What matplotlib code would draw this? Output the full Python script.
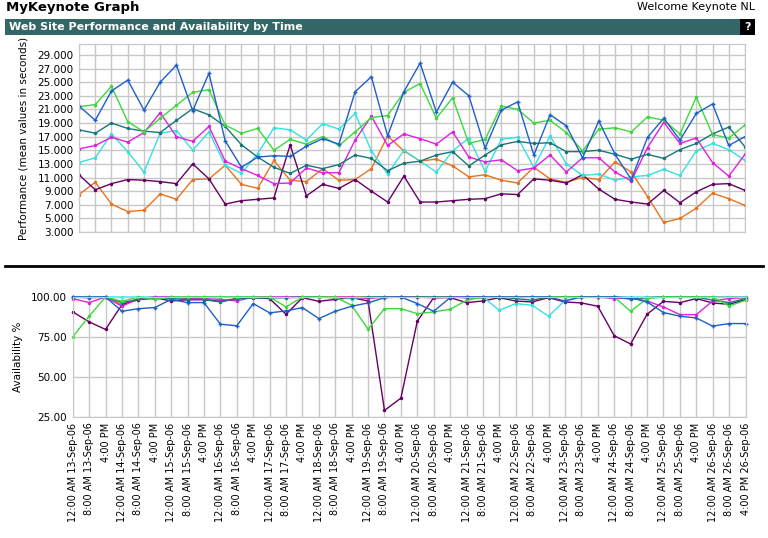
import matplotlib.pyplot as plt
import numpy as np
from matplotlib.patches import Rectangle
from matplotlib.lines import Line2D

# x tick labels, every 8 hours from 13-Sep-06 to 26-Sep-06
days = [f"{d}-Sep-06" for d in range(13, 27)]
x_labels = []
for d in days:
    x_labels += [f"12:00 AM {d}", f"8:00 AM {d}", "4:00 PM"]
x_labels[-1] = "4:00 PM 26-Sep-06"

# performance (mean values in seconds)
perf_blue = [21.5, 19.4, 23.7, 25.3, 20.9, 25.0, 27.5, 20.8, 26.3, 16.4, 12.5, 14.0,
             14.2, 14.1, 15.6, 16.7, 15.9, 23.6, 25.8, 17.1, 23.6, 27.8, 20.6, 25.0,
             23.0, 15.3, 20.9, 22.1, 14.3, 20.2, 18.6, 13.9, 19.3, 14.4, 10.7, 16.9,
             19.7, 16.5, 20.4, 21.8, 15.7, 17.0]
perf_green = [21.4, 21.7, 24.4, 19.2, 17.7, 19.7, 21.6, 23.5, 23.9, 18.7, 17.5, 18.2,
              15.0, 16.6, 15.9, 17.0, 15.7, 17.7, 19.8, 20.1, 23.5, 24.8, 19.7, 22.7,
              16.0, 16.6, 21.5, 21.0, 19.0, 19.4, 17.6, 14.9, 18.1, 18.3, 17.7, 19.9,
              19.4, 17.4, 22.8, 17.3, 16.8, 18.7]
perf_teal = [18.0, 17.5, 19.0, 18.2, 17.8, 17.6, 19.4, 21.1, 20.2, 18.5, 15.8, 14.0,
             12.5, 11.6, 12.8, 12.3, 12.9, 14.3, 13.8, 12.0, 13.1, 13.4, 14.3, 14.8,
             12.7, 14.3, 15.8, 16.3, 16.0, 16.1, 14.8, 14.8, 15.0, 14.4, 13.7, 14.4,
             13.8, 15.1, 16.0, 17.4, 18.4, 15.5]
perf_magenta = [15.2, 15.7, 16.9, 16.2, 17.6, 20.5, 17.0, 16.3, 18.5, 13.4, 12.3, 11.3,
                10.1, 10.2, 12.4, 11.7, 11.7, 16.5, 20.0, 15.7, 17.4, 16.7, 15.9, 17.7,
                14.0, 13.3, 13.6, 12.0, 12.4, 14.3, 11.8, 13.9, 13.9, 11.8, 10.5, 15.4,
                19.1, 16.0, 16.8, 13.2, 11.2, 14.4]
perf_cyan = [13.2, 13.9, 17.4, 14.8, 11.8, 17.5, 17.9, 15.0, 17.7, 12.8, 11.6, 14.5,
             18.3, 18.0, 16.5, 18.9, 18.1, 20.4, 14.9, 11.5, 15.0, 13.4, 11.8, 14.9,
             16.8, 11.9, 16.6, 16.9, 12.5, 17.1, 13.0, 11.3, 11.5, 10.6, 11.1, 11.3,
             12.2, 11.3, 14.9, 16.0, 15.1, 13.5]
perf_orange = [8.5, 10.3, 7.1, 6.0, 6.2, 8.6, 7.8, 10.7, 10.8, 12.8, 10.0, 9.4,
               13.5, 10.6, 10.4, 12.3, 10.6, 10.7, 12.3, 17.1, 14.9, 13.4, 13.7, 12.7,
               11.1, 11.4, 10.6, 10.2, 12.5, 10.8, 10.3, 11.0, 10.7, 13.3, 11.8, 8.2,
               4.4, 5.0, 6.5, 8.7, 7.9, 6.9]
perf_purple = [11.4, 9.2, 10.1, 10.7, 10.6, 10.4, 10.1, 13.0, 10.8, 7.1, 7.6, 7.8,
               8.0, 15.8, 8.3, 10.0, 9.4, 10.7, 9.0, 7.4, 11.2, 7.4, 7.4, 7.6,
               7.8, 7.9, 8.6, 8.5, 10.8, 10.6, 10.2, 11.4, 9.3, 7.8, 7.4, 7.1,
               9.1, 7.3, 8.9, 10.0, 10.1, 9.1]

# availability %
avail_blue = [100, 100, 100, 91.1, 92.7, 93.4, 98.5, 96.5, 96.5, 83.0, 82.0, 95.9,
              90.1, 91.3, 93.4, 86.5, 91.1, 94.2, 96.3, 99.6, 100, 95.9, 91.1, 99.6,
              100, 100, 100, 100, 100, 100, 97.5, 100, 100, 100, 99.5, 96.9,
              90.3, 88.0, 86.9, 81.8, 83.4, 83.4]
avail_green = [75.1, 88.0, 100, 97.3, 100, 98.5, 100, 100, 100, 100, 100, 100,
               100, 93.8, 100, 100, 100, 94.8, 79.9, 92.7, 92.7, 89.6, 90.7, 92.3,
               97.9, 100, 100, 100, 100, 100, 100, 100, 100, 100, 91.1, 99.0,
               100, 100, 100, 100, 94.4, 97.9]
avail_teal = [100, 99.5, 100, 96.5, 98.5, 99.0, 99.0, 98.5, 98.5, 96.9, 99.0, 99.5,
              99.5, 99.5, 100, 100, 99.5, 99.5, 100, 100, 100, 100, 100, 100,
              99.5, 99.5, 100, 99.0, 98.0, 100, 100, 100, 100, 100, 99.0, 99.5,
              100, 100, 100, 98.0, 96.5, 99.0]
avail_magenta = [99.0, 96.5, 100, 94.2, 99.0, 100, 100, 99.0, 99.0, 98.5, 97.5, 100,
                 100, 100, 100, 100, 100, 100, 99.0, 100, 100, 100, 99.5, 100,
                 100, 100, 100, 100, 100, 100, 100, 100, 100, 99.0, 99.5, 97.5,
                 93.8, 89.0, 89.0, 97.5, 99.0, 99.6]
avail_cyan = [100, 100, 100, 100, 100, 100, 100, 100, 100, 100, 100, 100,
              100, 100, 100, 100, 100, 99.0, 100, 100, 100, 100, 100, 100,
              100, 100, 91.7, 95.9, 94.8, 88.0, 97.9, 100, 100, 100, 100, 100,
              100, 100, 100, 100, 100, 100]
avail_orange = [100, 100, 100, 95.2, 99.0, 100, 100, 100, 100, 100, 100, 100,
                100, 100, 100, 100, 100, 100, 100, 100, 100, 100, 100, 100,
                100, 100, 100, 100, 100, 100, 100, 100, 100, 100, 98.5, 100,
                100, 100, 100, 100, 100, 100]
avail_purple = [90.7, 84.5, 79.7, 95.2, 98.3, 99.6, 97.5, 98.3, 98.3, 97.3, 99.0, 99.6,
                99.0, 89.2, 99.6, 97.3, 98.5, 99.6, 97.5, 29.1, 36.8, 84.9, 99.6, 99.6,
                96.5, 97.5, 99.6, 97.5, 96.9, 99.6, 96.9, 96.3, 94.2, 75.8, 70.6, 89.2,
                97.3, 96.5, 99.0, 96.3, 95.4, 98.3]

colors = {
    "orange": "#e8731c",
    "purple": "#660066",
    "cyan": "#36e0e0",
    "magenta": "#e020e0",
    "teal": "#17767a",
    "green": "#3cd83c",
    "blue": "#1e5fc8",
}
perf = {"orange": perf_orange, "purple": perf_purple, "cyan": perf_cyan,
        "magenta": perf_magenta, "teal": perf_teal, "green": perf_green, "blue": perf_blue}
avail = {"orange": avail_orange, "purple": avail_purple, "cyan": avail_cyan,
         "magenta": avail_magenta, "teal": avail_teal, "green": avail_green, "blue": avail_blue}

W, H = 768, 538
fig = plt.figure(figsize=(W / 100, H / 100), dpi=100)
fig.patch.set_facecolor("white")

# header
fig.text(6 / W, 1 - 7 / H, "MyKeynote Graph", fontsize=9.5, fontweight="bold", va="center", ha="left")
fig.text(755 / W, 1 - 7 / H, "Welcome Keynote NL", fontsize=8, va="center", ha="right")
fig.add_artist(Rectangle((5 / W, 1 - 35 / H), 735 / W, 16 / H, transform=fig.transFigure,
                         facecolor="#336666", edgecolor="none"))
fig.add_artist(Rectangle((740 / W, 1 - 35 / H), 15 / W, 16 / H, transform=fig.transFigure,
                         facecolor="black", edgecolor="none"))
fig.text(9 / W, 1 - 27 / H, "Web Site Performance and Availability by Time", color="white",
         fontsize=8, fontweight="bold", va="center", ha="left")
fig.text(747.5 / W, 1 - 27 / H, "?", color="white", fontsize=8, fontweight="bold",
         va="center", ha="center")
# separator line
fig.add_artist(Line2D([5 / W, 763 / W], [1 - 266 / H, 1 - 266 / H], transform=fig.transFigure,
                      color="black", linewidth=2))

x = np.arange(len(x_labels))
grid_color = "#c8c8c8"


def style_axes(ax):
    ax.set_facecolor("white")
    ax.grid(True, color=grid_color, linewidth=1)
    ax.set_axisbelow(True)
    for sp in ax.spines.values():
        sp.set_color(grid_color)
    ax.tick_params(length=0, labelsize=7.5, pad=4)
    ax.set_xlim(0, len(x_labels) - 1)
    ax.set_xticks(x)


# performance panel
ax1 = fig.add_axes([79 / W, 1 - 232 / H, 666 / W, 188 / H])
style_axes(ax1)
for name, vals in perf.items():
    m = "+" if name == "blue" else "o"
    ms = 3.5 if name == "blue" else 1.5
    ax1.plot(x, vals, color=colors[name], linewidth=1, marker=m, markersize=ms)
ax1.set_ylim(3, 30.6)
ax1.set_yticks(np.arange(3, 30, 2))
ax1.set_yticklabels([f"{v:.3f}" for v in np.arange(3, 30, 2)])
ax1.set_xticklabels([])
ax1.set_ylabel("Performance (mean values in seconds)", fontsize=7.5, labelpad=6)

# availability panel
ax2 = fig.add_axes([72.7 / W, 1 - 417 / H, 672.8 / W, 120 / H])
style_axes(ax2)
for name, vals in avail.items():
    m = "+" if name == "blue" else "o"
    ms = 3.5 if name == "blue" else 1.5
    ax2.plot(x, vals, color=colors[name], linewidth=1, marker=m, markersize=ms, clip_on=False)
ax2.set_ylim(25, 100)
ax2.set_yticks([25, 50, 75, 100])
ax2.set_yticklabels(["25.00", "50.00", "75.00", "100.00"])
ax2.set_xticklabels(x_labels, rotation=90, fontsize=7, va="top", ha="center")
ax2.set_ylabel("Availability %", fontsize=7.5, labelpad=6)

fig.savefig("out.png", dpi=100)
